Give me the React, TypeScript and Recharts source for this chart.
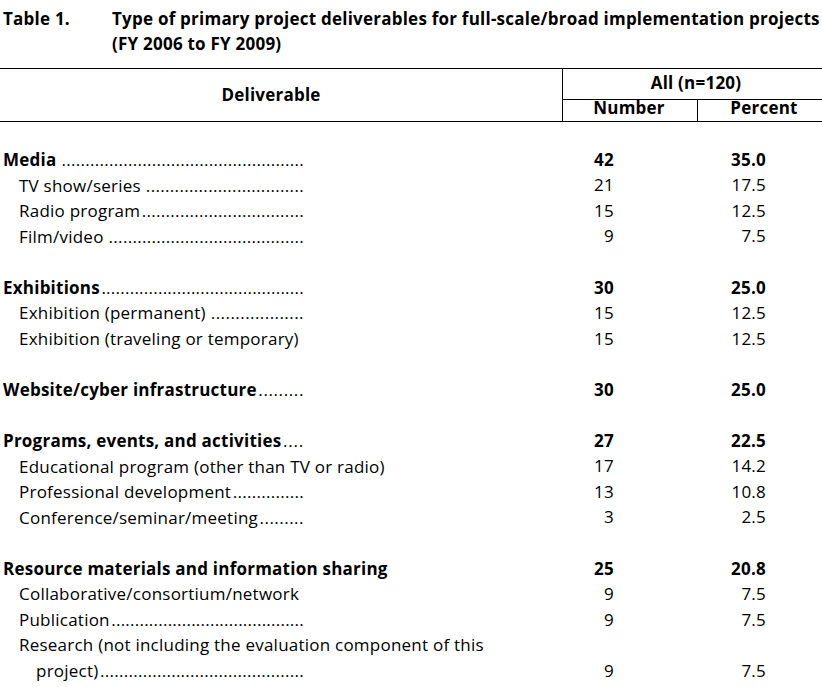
import React from 'react';
import { ComposedChart, Bar, XAxis, YAxis, LabelList, Customized } from 'recharts';

const FONT = '"Open Sans", Lato, sans-serif';
const FS = 17;
const LS = 0.23;

const rowLabels = [
  'Media', 'TV show/series', 'Radio program', 'Film/video', '',
  'Exhibitions', 'Exhibition (permanent)', 'Exhibition (traveling or temporary)', '',
  'Website/cyber infrastructure', '',
  'Programs, events, and activities', 'Educational program (other than TV or radio)',
  'Professional development', 'Conference/seminar/meeting', '',
  'Resource materials and information sharing', 'Collaborative/consortium/network', 'Publication',
  'Research (not including the evaluation component of this', 'project)',
];
const rowLevels = [0, 1, 1, 1, -1, 0, 1, 1, -1, 0, -1, 0, 1, 1, 1, -1, 0, 1, 1, 1, 2];
// 0 = no leader, 1 = leader right after text, 2 = leader after a space
const rowLeaders = [2, 2, 1, 2, 0, 1, 2, 0, 0, 1, 0, 1, 0, 1, 1, 0, 0, 0, 1, 0, 1];
const numbers: (number | null)[] = [42, 21, 15, 9, null, 30, 15, 15, null, 30, null, 27, 17, 13, 3, null, 25, 9, 9, null, 9];
const percents: (number | null)[] = [35.0, 17.5, 12.5, 7.5, null, 25.0, 12.5, 12.5, null, 25.0, null, 22.5, 14.2, 10.8, 2.5, null, 20.8, 7.5, 7.5, null, 7.5];

const titleLabel = 'Table 1.';
const titleLines = ['Type of primary project deliverables for full-scale/broad implementation projects', '(FY 2006 to FY 2009)'];
const headerDeliverable = 'Deliverable';
const headerGroup = 'All (n=120)';
const headerNumber = 'Number';
const headerPercent = 'Percent';

const rows = rowLabels.map((label, i) => ({
  id: 'r' + i,
  label,
  level: rowLevels[i],
  leader: rowLeaders[i],
  number: numbers[i],
  percent: percents[i],
}));
const rowById: Record<string, (typeof rows)[number]> = {};
rows.forEach((r) => (rowById[r.id] = r));

const SVGNS = 'http://www.w3.org/2000/svg';
let measText: SVGTextElement | null = null;
function measure(text: string, bold: boolean): number {
  if (typeof document === 'undefined') return text.length * FS * 0.5;
  if (!measText) {
    const svg = document.createElementNS(SVGNS, 'svg');
    svg.setAttribute('width', '10');
    svg.setAttribute('height', '10');
    svg.style.position = 'absolute';
    svg.style.left = '-9999px';
    svg.style.top = '0';
    svg.style.visibility = 'hidden';
    measText = document.createElementNS(SVGNS, 'text') as SVGTextElement;
    svg.appendChild(measText);
    document.body.appendChild(svg);
  }
  measText.setAttribute('font-family', FONT);
  measText.setAttribute('font-size', String(FS));
  measText.setAttribute('letter-spacing', String(LS));
  measText.setAttribute('font-weight', bold ? 'bold' : 'normal');
  measText.textContent = text;
  return measText.getComputedTextLength();
}

const INDENT = [3, 19, 36];
const LEADER_END = 304;
const NUM_RIGHT = 614;
const PCT_RIGHT = 766;
const BASE_OFF = 6;

const txt = { fontFamily: FONT, fontSize: FS, letterSpacing: LS, fill: '#000' };

function RowTick(props: any) {
  const { y, payload } = props;
  const row = rowById[payload?.value];
  if (!row || row.level < 0) return <g />;
  const bold = row.level === 0;
  const x = INDENT[row.level];
  const w = measure(row.label, bold);
  let dots = '';
  let start = 0;
  let dotLS = LS;
  if (row.leader > 0) {
    const pitch = measure('..........', false) / 10;
    const gap = row.leader === 2 ? 5 : 1.5;
    start = x + w + gap;
    const avail = LEADER_END - start;
    const n = Math.max(0, Math.floor(avail / pitch));
    if (n > 0) {
      dots = '.'.repeat(n);
      dotLS = LS + (avail - n * pitch) / n;
    }
  }
  return (
    <g>
      <text x={x} y={y + BASE_OFF} {...txt} fontWeight={bold ? 'bold' : 'normal'}>
        {row.label}
      </text>
      {dots && (
        <text x={start} y={y + BASE_OFF} {...txt} letterSpacing={dotLS} fontWeight="normal">
          {dots}
        </text>
      )}
    </g>
  );
}

function makeValueLabel(right: number, key: 'number' | 'percent', fmt: (v: number) => string) {
  return (props: any) => {
    const { y, height, value } = props;
    const row = rowById[value];
    if (!row || row[key] == null) return null;
    const bold = row.level === 0;
    return (
      <text x={right} y={y + height / 2 + BASE_OFF} textAnchor="end" {...txt} fontWeight={bold ? 'bold' : 'normal'}>
        {fmt(row[key] as number)}
      </text>
    );
  };
}

const NumberLabel = makeValueLabel(NUM_RIGHT, 'number', (v) => String(v));
const PercentLabel = makeValueLabel(PCT_RIGHT, 'percent', (v) => v.toFixed(1));

function Header() {
  const t = { ...txt, fontWeight: 'bold' as const };
  return (
    <g>
      <text x={3} y={25} {...t}>{titleLabel}</text>
      <text x={112} y={25} {...t}>{titleLines[0]}</text>
      <text x={112} y={50} {...t}>{titleLines[1]}</text>
      <line x1={0} x2={822} y1={68.5} y2={68.5} stroke="#000" strokeWidth={1} />
      <line x1={562} x2={822} y1={99.5} y2={99.5} stroke="#000" strokeWidth={1} />
      <line x1={0} x2={822} y1={121.5} y2={121.5} stroke="#000" strokeWidth={1} />
      <line x1={562.5} x2={562.5} y1={68} y2={122} stroke="#000" strokeWidth={1} />
      <line x1={697.5} x2={697.5} y1={99} y2={122} stroke="#000" strokeWidth={1} />
      <text x={271} y={101} textAnchor="middle" {...t}>{headerDeliverable}</text>
      <text x={696} y={89} textAnchor="middle" {...t}>{headerGroup}</text>
      <text x={629} y={114} textAnchor="middle" {...t}>{headerNumber}</text>
      <text x={764} y={114} textAnchor="middle" {...t}>{headerPercent}</text>
    </g>
  );
}

export default function App() {
  return (
    <div style={{ position: 'absolute', left: 0, top: 0, background: '#fff' }}>
      <ComposedChart
        width={822}
        height={687}
        data={rows}
        layout="vertical"
        margin={{ top: 147.2, bottom: 3.2, left: 0, right: 0 }}
      >
        <XAxis type="number" domain={[0, 100]} hide />
        <YAxis
          type="category"
          dataKey="id"
          width={40}
          interval={0}
          axisLine={false}
          tickLine={false}
          tick={(p: any) => <RowTick {...p} />}
        />
        <Bar dataKey="number" stackId="s" fill="transparent" isAnimationActive={false}>
          <LabelList dataKey="id" content={NumberLabel} />
        </Bar>
        <Bar dataKey="percent" stackId="s" fill="transparent" isAnimationActive={false}>
          <LabelList dataKey="id" content={PercentLabel} />
        </Bar>
        <Customized component={Header} />
      </ComposedChart>
    </div>
  );
}
